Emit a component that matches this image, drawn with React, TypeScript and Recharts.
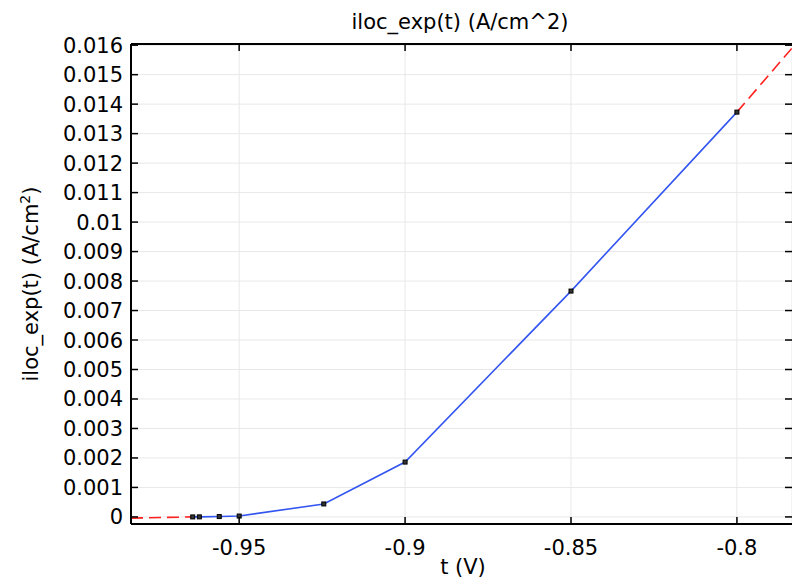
import React from "react";
import { LineChart, Line, XAxis, YAxis, CartesianGrid, ReferenceLine } from "recharts";

// measured data points (t in V, iloc_exp in A/cm^2)
const tValues = [-0.964, -0.962, -0.956, -0.95, -0.9245, -0.9, -0.85, -0.8];
const ilocValues = [0.0, 0.000002, 0.000012, 0.00003, 0.00044, 0.00186, 0.00766, 0.01373];

// extrapolated parts (red dashed)
const leftExtraT = [-0.9826, -0.964];
const leftExtraI = [-0.00004, 0.0];
const rightExtraT = [-0.8, -0.7834];
const rightExtraI = [0.01373, 0.0159];

const xTicks = [-0.95, -0.9, -0.85, -0.8];
const yTicks = [0, 0.001, 0.002, 0.003, 0.004, 0.005, 0.006, 0.007, 0.008, 0.009, 0.01, 0.011, 0.012, 0.013, 0.014, 0.015, 0.016];

const X_DOMAIN: [number, number] = [-0.9826, -0.7834];
const Y_DOMAIN: [number, number] = [-0.00024, 0.01604];

const W = 792;
const H = 578;
const PLOT_LEFT = 131;
const PLOT_TOP = 44;
const PLOT_RIGHT = 792;
const PLOT_BOTTOM = 524;
const FONT = "DejaVu Sans, sans-serif";
const FS = 21;

const zip = (ts: number[], vs: number[]) => ts.map((t, i) => ({ t, i: vs[i] }));
const mainData = zip(tValues, ilocValues);
const leftData = zip(leftExtraT, leftExtraI);
const rightData = zip(rightExtraT, rightExtraI);

const SquareDot = (props: any) => {
  const { cx, cy } = props;
  if (cx == null || cy == null) return null;
  return <rect x={cx - 2} y={cy - 2} width={4} height={4} fill="#333" stroke="#000" strokeWidth={1} />;
};

const XTick = (props: any) => {
  const { x, payload } = props;
  return (
    <g>
      <line x1={x} x2={x} y1={PLOT_BOTTOM} y2={PLOT_BOTTOM - 7} stroke="#000" strokeWidth={1.5} />
      <line x1={x} x2={x} y1={PLOT_TOP} y2={PLOT_TOP + 7} stroke="#000" strokeWidth={1.5} />
      <text x={x} y={555} textAnchor="middle" fontSize={FS} fontFamily={FONT} fill="#000">
        {String(payload.value)}
      </text>
    </g>
  );
};

const YTick = (props: any) => {
  const { y, payload } = props;
  return (
    <g>
      <line x1={PLOT_LEFT} x2={PLOT_LEFT + 7} y1={y} y2={y} stroke="#000" strokeWidth={1.5} />
      <line x1={PLOT_RIGHT} x2={PLOT_RIGHT - 7} y1={y} y2={y} stroke="#000" strokeWidth={1.5} />
      <text x={123} y={y + 7.5} textAnchor="end" fontSize={FS} fontFamily={FONT} fill="#000">
        {String(payload.value)}
      </text>
    </g>
  );
};

const YLabel = () => (
  <text
    transform={`translate(38, ${(PLOT_TOP + PLOT_BOTTOM) / 2}) rotate(-90)`}
    textAnchor="middle"
    fontSize={FS}
    fontFamily={FONT}
    fill="#000"
  >
    iloc_exp(t) (A/cm<tspan dy={-8} fontSize={14}>2</tspan>
    <tspan dy={8}>)</tspan>
  </text>
);

const XLabel = () => (
  <text x={463} y={574} textAnchor="middle" fontSize={FS} fontFamily={FONT} fill="#000">
    t (V)
  </text>
);

export default function App() {
  return (
    <div style={{ position: "absolute", left: 0, top: 0, width: W, height: H, background: "#fff" }}>
      <div
        style={{
          position: "absolute",
          left: 128,
          right: 0,
          top: 8,
          textAlign: "center",
          fontFamily: FONT,
          fontSize: FS,
          color: "#000",
          lineHeight: "28px",
        }}
      >
        iloc_exp(t) (A/cm^2)
      </div>
      <LineChart
        width={W}
        height={H}
        margin={{ top: PLOT_TOP, right: W - PLOT_RIGHT, bottom: 0, left: 0 }}
        style={{ position: "absolute", left: 0, top: 0 }}
      >
        <CartesianGrid stroke="#e8e8e8" strokeWidth={1} />
        <XAxis
          type="number"
          dataKey="t"
          domain={X_DOMAIN}
          ticks={xTicks}
          allowDataOverflow
          height={H - PLOT_BOTTOM}
          tickLine={false}
          tick={<XTick />}
          axisLine={{ stroke: "#000", strokeWidth: 2 }}
          interval={0}
          label={<XLabel />}
        />
        <YAxis
          type="number"
          dataKey="i"
          domain={Y_DOMAIN}
          ticks={yTicks}
          allowDataOverflow
          width={PLOT_LEFT}
          tickLine={false}
          tick={<YTick />}
          axisLine={{ stroke: "#000", strokeWidth: 2 }}
          interval={0}
          label={<YLabel />}
        />
        <ReferenceLine y={Y_DOMAIN[1]} stroke="#000" strokeWidth={2} />
        <Line
          data={leftData}
          dataKey="i"
          stroke="#ff2020"
          strokeWidth={1.6}
          strokeDasharray="12 6"
          dot={false}
          isAnimationActive={false}
        />
        <Line
          data={rightData}
          dataKey="i"
          stroke="#ff2020"
          strokeWidth={1.6}
          strokeDasharray="12 6"
          dot={false}
          isAnimationActive={false}
        />
        <Line
          data={mainData}
          dataKey="i"
          stroke="#3355f0"
          strokeWidth={1.6}
          dot={<SquareDot />}
          isAnimationActive={false}
        />
      </LineChart>
    </div>
  );
}
